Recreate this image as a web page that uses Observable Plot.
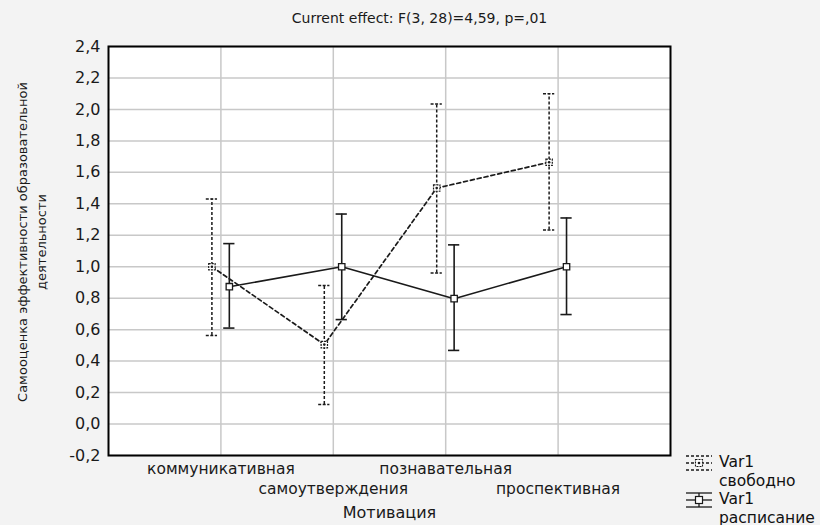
<!DOCTYPE html>
<html>
<head>
<meta charset="utf-8">
<script src="https://cdn.jsdelivr.net/npm/d3@7"></script>
<script src="https://cdn.jsdelivr.net/npm/@observablehq/plot@0.6"></script>
<style>
  html, body { margin: 0; padding: 0; background: #f3f3f3; }
  #wrap { position: relative; width: 820px; height: 525px; font-family: "DejaVu Sans", sans-serif; color: #111; }
  #legend { position: absolute; left: 684px; top: 453px; font-size: 15.5px; line-height: 18.5px; }
  #legend .row { display: flex; align-items: flex-start; }
  #legend svg { margin-right: 5px; flex: none; }
</style>
</head>
<body>
<div id="wrap"></div>
<script>
const categories = ["коммуникативная", "самоутверждения", "познавательная", "проспективная"];
const freeMean  = [1.00, 0.505, 1.50, 1.664];
const freeLow   = [0.563, 0.125, 0.96, 1.234];
const freeHigh  = [1.43, 0.88, 2.035, 2.10];
const schedMean = [0.873, 1.00, 0.797, 1.00];
const schedLow  = [0.61, 0.664, 0.468, 0.696];
const schedHigh = [1.147, 1.335, 1.139, 1.31];
const yTicks = [-0.2, 0, 0.2, 0.4, 0.6, 0.8, 1.0, 1.2, 1.4, 1.6, 1.8, 2.0, 2.2, 2.4];
const seriesNames = ["Var1\nсвободно", "Var1\nрасписание"];
const title = "Current effect: F(3, 28)=4,59, p=,01";
const yTitle = "Самооценка эффективности образовательной\nдеятельности";
const xTitle = "Мотивация";

// layout constants
const offFree = -0.08, offSched = 0.075, capHalf = 0.05;

const free = categories.map((c, i) => ({c, x: i + 1 + offFree, m: freeMean[i], lo: freeLow[i], hi: freeHigh[i]}));
const sched = categories.map((c, i) => ({c, x: i + 1 + offSched, m: schedMean[i], lo: schedLow[i], hi: schedHigh[i]}));

const ink = "#1a1a1a";
const fmt = d => d.toFixed(1).replace(".", ",");

const chart = Plot.plot({
  width: 820,
  height: 525,
  marginLeft: 108,
  marginRight: 150,
  marginTop: 46,
  marginBottom: 70,
  style: {background: "transparent", fontFamily: "'DejaVu Sans', sans-serif", fontSize: "16px", color: ink},
  x: {domain: [0, 5]},
  y: {domain: [-0.2, 2.4]},
  marks: [
    Plot.frame({fill: "white", stroke: "none"}),
    Plot.gridY(yTicks, {stroke: "#c8c8c8", strokeOpacity: 1, strokeWidth: 1.5}),
    Plot.gridX([1, 2, 3, 4], {stroke: "#c8c8c8", strokeOpacity: 1, strokeWidth: 1.5}),
    Plot.frame({stroke: "#000", strokeWidth: 2}),
    Plot.axisY({ticks: yTicks, tickFormat: fmt, tickSize: 0, tickPadding: 8, fontSize: 16, label: null}),
    Plot.axisX({ticks: [1, 3], tickFormat: d => categories[d - 1], tickSize: 0, tickPadding: 7, fontSize: 15.5, label: null}),
    Plot.axisX({ticks: [2, 4], tickFormat: d => categories[d - 1], tickSize: 0, tickPadding: 27, fontSize: 15.5, label: null}),
    // free series (dashed)
    Plot.ruleX(free, {x: "x", y1: "lo", y2: "hi", stroke: ink, strokeWidth: 1.5, strokeDasharray: "3,2"}),
    Plot.ruleY(free, {y: "hi", x1: d => d.x - capHalf, x2: d => d.x + capHalf, stroke: ink, strokeWidth: 1.5, strokeDasharray: "3,1.5"}),
    Plot.ruleY(free, {y: "lo", x1: d => d.x - capHalf, x2: d => d.x + capHalf, stroke: ink, strokeWidth: 1.5, strokeDasharray: "3,1.5"}),
    Plot.line(free, {x: "x", y: "m", stroke: ink, strokeWidth: 1.7, strokeDasharray: "4,3"}),
    Plot.dot(free, {x: "x", y: "m", symbol: "square", r: 3.6, fill: "white", stroke: ink, strokeWidth: 1.2, strokeDasharray: "2,1"}),
    Plot.dot(free, {x: "x", y: "m", r: 1.3, fill: ink}),
    // scheduled series (solid)
    Plot.ruleX(sched, {x: "x", y1: "lo", y2: "hi", stroke: ink, strokeWidth: 1.6}),
    Plot.ruleY(sched, {y: "hi", x1: d => d.x - capHalf, x2: d => d.x + capHalf, stroke: ink, strokeWidth: 1.6}),
    Plot.ruleY(sched, {y: "lo", x1: d => d.x - capHalf, x2: d => d.x + capHalf, stroke: ink, strokeWidth: 1.6}),
    Plot.line(sched, {x: "x", y: "m", stroke: ink, strokeWidth: 1.6}),
    Plot.dot(sched, {x: "x", y: "m", symbol: "square", r: 3.6, fill: "white", stroke: ink, strokeWidth: 1.3}),
    // texts
    Plot.text([title], {frameAnchor: "top", dx: 30, dy: -33, fontSize: 14, fill: ink}),
    Plot.text([xTitle], {frameAnchor: "bottom", dy: 62, fontSize: 16, fill: ink}),
    Plot.text([yTitle], {frameAnchor: "left", textAnchor: "middle", dx: -78, dy: -9, rotate: -90, fontSize: 13, lineHeight: 1.45, fill: ink})
  ]
});

const wrap = document.getElementById("wrap");
wrap.appendChild(chart);
chart.style.position = "absolute";
chart.style.left = "0";
chart.style.top = "0";

// legend
const legend = document.createElement("div");
legend.id = "legend";
const glyphFree = `<svg width="30" height="20" viewBox="0 0 30 20">
  <line x1="2" y1="3" x2="28" y2="3" stroke="${ink}" stroke-width="1.3" stroke-dasharray="3,2"/>
  <line x1="2" y1="10" x2="28" y2="10" stroke="${ink}" stroke-width="1.3" stroke-dasharray="3,2"/>
  <line x1="2" y1="17" x2="28" y2="17" stroke="${ink}" stroke-width="1.3" stroke-dasharray="3,2"/>
  <rect x="11.5" y="6.5" width="7" height="7" fill="white" stroke="${ink}" stroke-width="1.1" stroke-dasharray="2,1"/>
  <circle cx="15" cy="10" r="1.3" fill="${ink}"/></svg>`;
const glyphSched = `<svg width="30" height="20" viewBox="0 0 30 20">
  <line x1="2" y1="3" x2="28" y2="3" stroke="${ink}" stroke-width="1.3"/>
  <line x1="2" y1="10" x2="28" y2="10" stroke="${ink}" stroke-width="1.3"/>
  <line x1="2" y1="17" x2="28" y2="17" stroke="${ink}" stroke-width="1.3"/>
  <line x1="15" y1="3" x2="15" y2="17" stroke="${ink}" stroke-width="1.3"/>
  <rect x="11.5" y="6.5" width="7" height="7" fill="white" stroke="${ink}" stroke-width="1.2"/></svg>`;
const glyphs = [glyphFree, glyphSched];
seriesNames.forEach((name, i) => {
  const row = document.createElement("div");
  row.className = "row";
  row.innerHTML = glyphs[i] + `<div>${name.split("\n").join("<br>")}</div>`;
  legend.appendChild(row);
});
wrap.appendChild(legend);
</script>
</body>
</html>
